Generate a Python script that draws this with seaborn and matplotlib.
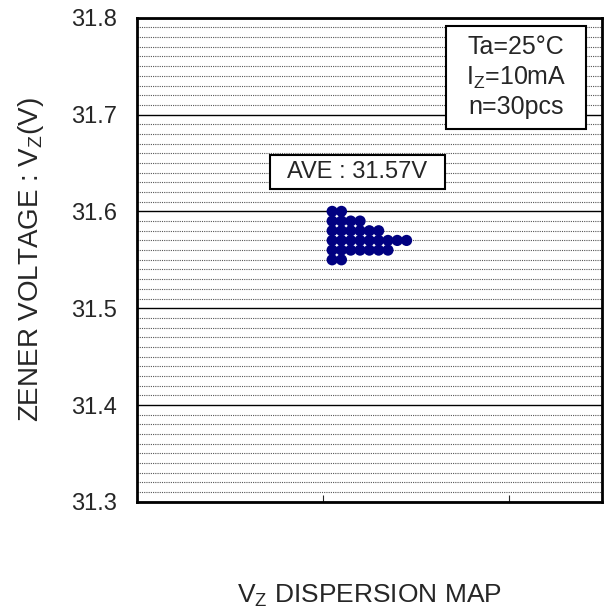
import numpy as np
import pandas as pd
import seaborn as sns
import matplotlib.pyplot as plt
from matplotlib.patches import Rectangle
from matplotlib.ticker import MultipleLocator

# zener voltage rows and how many pieces fell on each
voltages = [31.60, 31.59, 31.58, 31.57, 31.56, 31.55]
counts = [2, 4, 6, 9, 7, 2]
x_start = 1.0
x_step = 0.05
y_ticks = [31.3, 31.4, 31.5, 31.6, 31.7, 31.8]
cond_text = "Ta=25°C\nI$_Z$=10mA\nn=30pcs"
ave_text = "AVE : 31.57V"

rows = []
for v, c in zip(voltages, counts):
    for k in range(c):
        rows.append({"x": x_start + x_step * (k + 1), "vz": v})
df = pd.DataFrame(rows)

sns.set_style("white")
plt.rcParams['font.family'] = ['Liberation Sans', 'DejaVu Sans']
plt.rcParams['mathtext.fontset'] = 'custom'
plt.rcParams['mathtext.rm'] = 'Liberation Sans'
plt.rcParams['mathtext.it'] = 'Liberation Sans'

fig = plt.figure(figsize=(6.08, 6.12), dpi=100)
ax = fig.add_axes([0.225, 0.180, 0.765, 0.791])

ax.set_xlim(0, 2.5)
ax.set_ylim(31.3, 31.8)
ax.yaxis.set_minor_locator(MultipleLocator(0.01))
ax.xaxis.set_major_locator(MultipleLocator(1))
ax.set_yticks(y_ticks)
ax.set_yticklabels([f"{t:.1f}" for t in y_ticks])
ax.grid(which='major', axis='y', color='black', lw=1.0, ls='-')
ax.grid(which='minor', axis='y', color='#555555', lw=0.8, ls=(0, (1, 1)))
ax.set_axisbelow(True)

sns.scatterplot(data=df, x="x", y="vz", ax=ax, s=65, color="#000080",
                edgecolor="none", zorder=3, legend=False)

ax.tick_params(axis='x', which='major', direction='in', length=5, width=0.8,
               bottom=True, labelbottom=False)
ax.tick_params(axis='y', which='major', direction='in', length=0,
               labelsize=17, pad=14)
ax.tick_params(axis='y', which='minor', length=0)

for sp in ax.spines.values():
    sp.set_linewidth(2)
    sp.set_color('black')

ax.set_xlabel("V$_Z$ DISPERSION MAP", fontsize=19, labelpad=58)
ax.set_ylabel("ZENER VOLTAGE : V$_Z$(V)", fontsize=20, labelpad=18)

# condition box
ax.add_patch(Rectangle((0.665, 0.771), 0.301, 0.212, transform=ax.transAxes,
                       fc='white', ec='black', lw=1.5, zorder=4))
ax.text(0.815, 0.877, cond_text, transform=ax.transAxes, ha='center',
        va='center', fontsize=18, linespacing=1.25, zorder=5)

# average box
ax.add_patch(Rectangle((0.286, 0.647), 0.376, 0.070, transform=ax.transAxes,
                       fc='white', ec='black', lw=1.5, zorder=4))
ax.text(0.474, 0.682, ave_text, transform=ax.transAxes, ha='center',
        va='center', fontsize=17, zorder=5)

plt.savefig("out.png", dpi=100)
